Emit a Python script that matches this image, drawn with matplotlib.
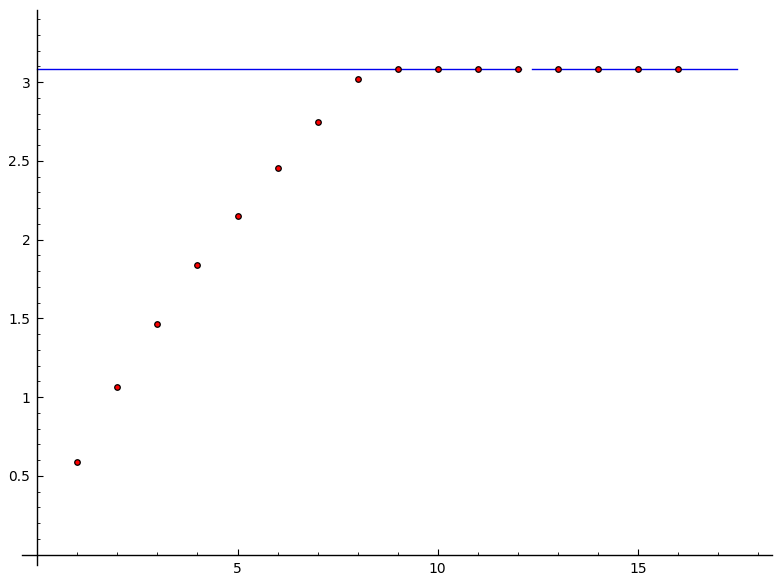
import matplotlib
matplotlib.use("Agg")
import matplotlib.pyplot as plt
from matplotlib.ticker import MultipleLocator, FuncFormatter

# ==================== 数据 ====================
n_values = list(range(1, 17))
approx_values = [0.587, 1.063, 1.463, 1.837, 2.149, 2.453, 2.747, 3.020,
                 3.082, 3.082, 3.082, 3.082, 3.082, 3.082, 3.082, 3.082]

limit_value = 3.082
# 水平线分两段（原图中间有一个小缺口）
line_starts = [0.0, 12.36]
line_ends = [12.08, 17.48]

x_major_ticks = [5, 10, 15]
y_major_ticks = [0.5, 1, 1.5, 2, 2.5, 3]

# ==================== 画布 ====================
plt.rcParams.update({
    "font.family": "DejaVu Sans",
    "font.size": 10,
})

fig = plt.figure(figsize=(7.81, 5.84), dpi=100)
ax = fig.add_axes([22.3 / 781, 19 / 584, (772.0 - 22.3) / 781, (574 - 19) / 584])

for x0, x1 in zip(line_starts, line_ends):
    ax.plot([x0, x1], [limit_value, limit_value], color="#0000ee", linewidth=1.0, zorder=2)

ax.scatter(n_values, approx_values, s=16, facecolor="red", edgecolor="black",
           linewidths=0.9, zorder=3)

ax.set_xlim(-0.375, 18.35)
ax.set_ylim(-0.065, 3.458)

# Sage 风格：坐标轴过原点
ax.spines["left"].set_position(("data", 0))
ax.spines["bottom"].set_position(("data", 0))
ax.spines["top"].set_visible(False)
ax.spines["right"].set_visible(False)
for side in ("left", "bottom"):
    ax.spines[side].set_linewidth(1.0)

ax.set_xticks(x_major_ticks)
ax.set_yticks(y_major_ticks)
ax.xaxis.set_minor_locator(MultipleLocator(1))
ax.yaxis.set_minor_locator(MultipleLocator(0.1))
ax.yaxis.set_major_formatter(FuncFormatter(lambda v, p: f"{v:g}"))

ax.tick_params(which="major", direction="in", length=4.3, width=0.8, pad=5)
ax.tick_params(which="minor", direction="in", length=2.2, width=0.6)
ax.tick_params(axis="x", labelsize=10)
ax.tick_params(axis="y", labelsize=10)

fig.savefig("out.png", dpi=100)
